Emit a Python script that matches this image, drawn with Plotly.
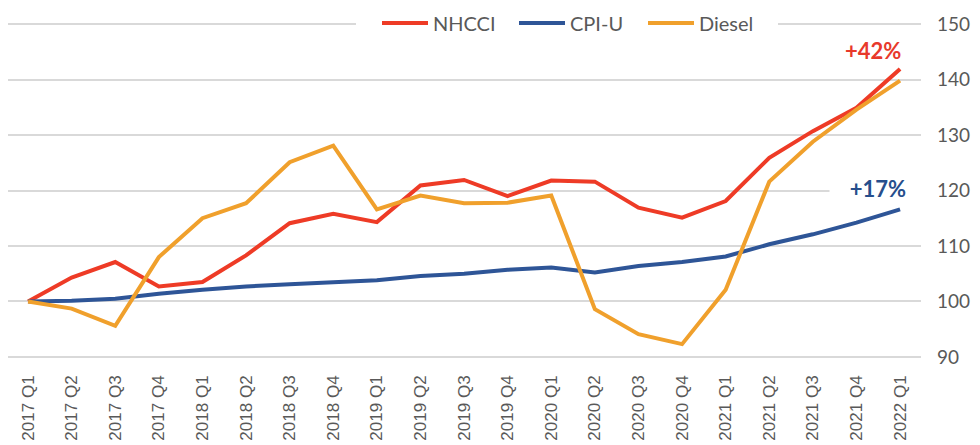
import plotly.graph_objects as go

quarters = ["2017 Q1", "2017 Q2", "2017 Q3", "2017 Q4",
            "2018 Q1", "2018 Q2", "2018 Q3", "2018 Q4",
            "2019 Q1", "2019 Q2", "2019 Q3", "2019 Q4",
            "2020 Q1", "2020 Q2", "2020 Q3", "2020 Q4",
            "2021 Q1", "2021 Q2", "2021 Q3", "2021 Q4",
            "2022 Q1"]

nhcci = [100.0, 104.3, 107.1, 102.7, 103.5, 108.3, 114.1, 115.8, 114.3, 120.9,
         121.9, 119.0, 121.8, 121.6, 116.9, 115.1, 118.1, 125.9, 130.7, 134.9, 141.9]
cpi_u = [100.0, 100.1, 100.5, 101.4, 102.1, 102.7, 103.1, 103.5, 103.8, 104.6,
         105.0, 105.7, 106.1, 105.2, 106.4, 107.1, 108.1, 110.3, 112.1, 114.2, 116.6]
diesel = [100.0, 98.7, 95.6, 108.0, 115.0, 117.7, 125.1, 128.1, 116.6, 119.1,
          117.7, 117.8, 119.1, 98.6, 94.1, 92.3, 102.1, 121.6, 128.8, 134.6, 139.8]

y_ticks = [90, 100, 110, 120, 130, 140, 150]

series_names = ["NHCCI", "CPI-U", "Diesel"]
RED = "#EE3B26"
BLUE = "#2E5597"
ORANGE = "#F0A02C"
colors = [RED, BLUE, ORANGE]
GRAY = "#595959"

fig = go.Figure()
for name, vals, col in zip(series_names, [nhcci, cpi_u, diesel], colors):
    fig.add_trace(go.Scatter(x=list(range(len(quarters))), y=vals, mode="lines",
                             name=name, line=dict(color=col, width=4),
                             showlegend=False))

# the page body has an 8px default margin: compensate so the figure
# lands at the same screen position as the reference
OFF = 8
W, H = 980 - OFF, 445 - OFF
ML, MR, MT, MB = 8 - OFF, 59, 23 - OFF, 87
pw = W - ML - MR
ph = H - MT - MB


def px_x(px):
    return (px - OFF - ML) / pw


def px_y(py):
    return (H - MB - (py - OFF)) / ph


# manual legend (white box over gridline, long line samples)
shapes = [dict(type="rect", xref="paper", yref="paper",
               x0=px_x(356), x1=px_x(778), y0=px_y(42), y1=px_y(6),
               fillcolor="white", line=dict(width=0), layer="above")]
annotations = []
leg_lines = [(382, 428, 431), (519, 565, 568), (648, 694, 697)]
for (x0, x1, tx), name, col in zip(leg_lines, series_names, colors):
    shapes.append(dict(type="line", xref="paper", yref="paper",
                       x0=px_x(x0), x1=px_x(x1), y0=px_y(23), y1=px_y(23),
                       line=dict(color=col, width=4), layer="above"))
    annotations.append(dict(xref="paper", yref="paper", x=px_x(tx), y=px_y(23),
                            text=name, showarrow=False, xanchor="left",
                            yanchor="middle",
                            font=dict(family="Lato", size=20, color=GRAY)))

last = len(quarters) - 1
annotations.append(dict(x=last, y=nhcci[-1], xref="x", yref="y",
                        text="+%d%%" % round(nhcci[-1] - 100), showarrow=False,
                        xanchor="center", yanchor="middle", xshift=-27, yshift=19,
                        font=dict(family="Lato", size=22, color="#E8392B", weight="bold")))
annotations.append(dict(x=last, y=cpi_u[-1], xref="x", yref="y",
                        text="+%d%%" % round(cpi_u[-1] - 100), showarrow=False,
                        xanchor="center", yanchor="middle", xshift=-22, yshift=21,
                        width=96, height=26, bgcolor="white", borderpad=0,
                        font=dict(family="Lato", size=22, color="#264E8C", weight="bold")))

fig.update_layout(
    width=W, height=H,
    margin=dict(l=ML, r=MR, t=MT, b=MB),
    paper_bgcolor="white", plot_bgcolor="white",
    showlegend=False,
    shapes=shapes,
    annotations=annotations,
    xaxis=dict(
        tickmode="array", tickvals=list(range(len(quarters))), ticktext=quarters,
        range=[-0.46, last + 0.48], tickangle=-90, showgrid=False, zeroline=False,
        showline=False, ticks="", ticklabelstandoff=13,
        tickfont=dict(family="Liberation Sans", size=17, color=GRAY),
    ),
    yaxis=dict(
        side="right", range=[89.8, 150.2], tickvals=y_ticks,
        showgrid=True, gridcolor="#D9D9D9", gridwidth=2, zeroline=False,
        showline=False, ticks="", ticklabelstandoff=15,
        tickfont=dict(family="Lato", size=19, color=GRAY),
    ),
)

fig.write_html("out.html")
